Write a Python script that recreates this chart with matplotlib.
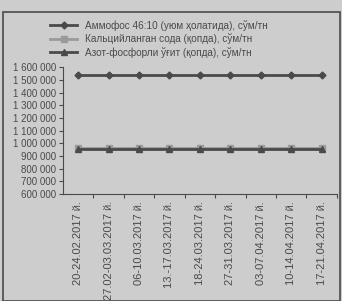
import matplotlib
matplotlib.use("Agg")
import matplotlib.pyplot as plt
from matplotlib.patches import Rectangle
from matplotlib.ticker import FuncFormatter

dates = ["20-24.02.2017 й.", "27.02-03.03.2017 й.", "06-10.03.2017 й.",
         "13.-17.03.2017 й.", "18-24.03.2017 й.", "27-31.03.2017 й.",
         "03-07.04.2017 й.", "10-14.04.2017 й.", "17-21.04.2017 й."]
ammofos = [1535000] * 9
soda = [962000] * 9
azot = [958000] * 9
names = ["Аммофос 46:10 (уюм ҳолатида), сўм/тн",
         "Кальцийланган сода (қопда), сўм/тн",
         "Азот-фосфорли ўғит (қопда), сўм/тн"]

bg = "#cdcdcd"
ink = "#4a4a4a"
plt.rcParams["font.family"] = ["Liberation Sans", "DejaVu Sans"]

fig = plt.figure(figsize=(3.42, 3.01), dpi=100, facecolor=bg)
ax = fig.add_axes([0.184, 0.355, 0.801, 0.422], facecolor=bg)

x = range(len(dates))
l1, = ax.plot(x, ammofos, color=ink, lw=2, marker="D", ms=3.5, label=names[0])
l2, = ax.plot(x, soda, color="#9a9a9a", lw=2, marker="s", ms=4, label=names[1])
l3, = ax.plot(x, azot, color=ink, lw=2, marker="^", ms=4.5, label=names[2])

ax.set_xlim(-0.5, len(dates) - 0.5)
ax.set_ylim(600000, 1600000)
ax.set_yticks(range(600000, 1600001, 100000))
ax.yaxis.set_major_formatter(FuncFormatter(lambda v, p: f"{int(v):,}".replace(",", " ")))
ax.set_xticks([i + 0.5 for i in range(len(dates))], minor=False)
ax.set_xticklabels([])
ax.set_xticks(list(x), labels=dates, minor=True, rotation=90, fontsize=8.0, color=ink)
ax.tick_params(axis="x", which="major", length=3, color=ink)
ax.tick_params(axis="x", which="minor", length=0, pad=5)
ax.tick_params(axis="y", labelsize=7.0, colors=ink, length=3, pad=2)
for s in ["top", "right"]:
    ax.spines[s].set_visible(False)
for s in ["left", "bottom"]:
    ax.spines[s].set_color(ink)

fig.legend(handles=[l1, l2, l3], loc="upper left", bbox_to_anchor=(0.135, 0.947),
           frameon=False, fontsize=7.2, labelcolor=ink, handlelength=2.7,
           labelspacing=0.25, handletextpad=0.8, borderaxespad=0)

fig.patches.append(Rectangle((0.01, 0.0), 0.985, 0.96, transform=fig.transFigure,
                             fill=False, edgecolor=ink, lw=1.2))

fig.savefig("out.png", dpi=100, facecolor=bg)
